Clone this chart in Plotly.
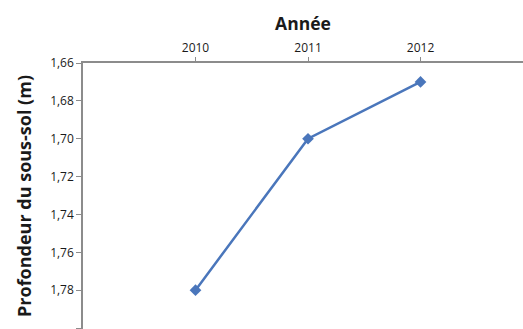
import plotly.graph_objects as go

years = [2010, 2011, 2012]
depth = [1.78, 1.70, 1.67]
y_ticks = [1.66, 1.68, 1.70, 1.72, 1.74, 1.76, 1.78, 1.80]
y_labels = ["1,66", "1,68", "1,70", "1,72", "1,74", "1,76", "1,78", "1,80"]
x_labels = ["2010", "2011", "2012"]

fig = go.Figure()
fig.add_trace(go.Scatter(
    x=years, y=depth, mode="lines+markers",
    line=dict(color="#4A76BB", width=2.5),
    marker=dict(symbol="diamond", size=9, color="#4A76BB"),
    showlegend=False,
))

axis_color = "#8C8C8C"
fig.update_layout(
    width=523, height=329,
    margin=dict(l=83, r=0, t=63, b=0),
    paper_bgcolor="white", plot_bgcolor="white",
    font=dict(family="Open Sans, Liberation Sans, sans-serif", color="#1a1a1a"),
    xaxis=dict(
        side="top", range=[2009, 2012.911], tickvals=years, ticktext=x_labels,
        automargin=False,
        showgrid=False, zeroline=False, showline=True, linecolor=axis_color, linewidth=1.5,
        ticks="outside", ticklen=4, tickcolor=axis_color, tickfont=dict(size=12),
        title=dict(text="<b>Année</b>", font=dict(size=17.5), standoff=4),
    ),
    yaxis=dict(
        range=[1.8005, 1.66], tickvals=y_ticks, ticktext=y_labels,
        automargin=False,
        showgrid=False, zeroline=False, showline=True, linecolor=axis_color, linewidth=1.5,
        ticks="outside", ticklen=5, tickcolor=axis_color, tickfont=dict(size=12),
        title=dict(text="<b>Profondeur du sous-sol (m)</b>", font=dict(size=18), standoff=14),
    ),
)

fig.write_html("out.html", config={"displayModeBar": False},
               post_script="document.body.style.margin='0';document.body.style.overflow='hidden';")
